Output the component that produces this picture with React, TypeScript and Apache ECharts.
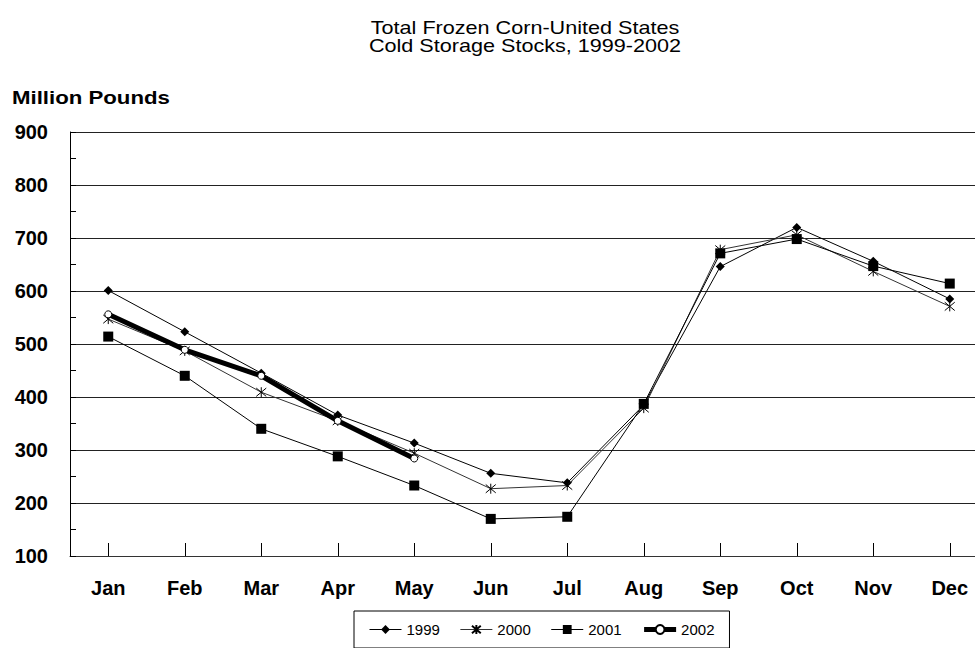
import React, { useEffect, useRef } from "react";
import * as echarts from "echarts";

const months = ["Jan", "Feb", "Mar", "Apr", "May", "Jun", "Jul", "Aug", "Sep", "Oct", "Nov", "Dec"];
const years = ["1999", "2000", "2001", "2002"];
const s1999 = [601, 523, 445, 366, 313, 256, 238, 385, 646, 720, 656, 585];
const s2000 = [547, 487, 409, 355, 294, 227, 233, 379, 678, 706, 637, 571];
const s2001 = [514, 440, 340, 288, 233, 170, 174, 387, 671, 698, 647, 614];
const s2002 = [556, 489, 440, 355, 284];
const titleLines = ["Total Frozen Corn-United States", "Cold Storage Stocks, 1999-2002"];
const yAxisTitle = "Million Pounds";
const yTicks = { min: 100, max: 900, step: 100 };

const FONT = "'Liberation Sans', Arial, Helvetica, sans-serif";
const ASTERISK = "path://M0,0L10,10M10,0L0,10M5,-1L5,11";

export default function App() {
  const ref = useRef<HTMLDivElement>(null);
  useEffect(() => {
    if (!ref.current) return;
    const chart = echarts.init(ref.current, undefined, { renderer: "svg" });
    const labelStyle = { fontSize: 20, fontWeight: "bold" as const, color: "#000", fontFamily: FONT };
    chart.setOption({
      animation: false,
      backgroundColor: "#fff",
      graphic: [
        {
          type: "text", x: 525, y: 28, scaleX: 1.2, silent: true,
          style: { text: titleLines[0], fontSize: 18, fontFamily: FONT, fill: "#000", align: "center", verticalAlign: "middle" },
        },
        {
          type: "text", x: 525, y: 46, scaleX: 1.2, silent: true,
          style: { text: titleLines[1], fontSize: 18, fontFamily: FONT, fill: "#000", align: "center", verticalAlign: "middle" },
        },
        {
          type: "text", x: 12, y: 97, scaleX: 1.17, silent: true,
          style: { text: yAxisTitle, fontSize: 19, fontWeight: "bold", fontFamily: FONT, fill: "#000", align: "left", verticalAlign: "middle" },
        },
      ],
      grid: { left: 70, top: 132, right: 12, bottom: 92, containLabel: false },
      xAxis: {
        type: "category",
        data: months,
        boundaryGap: true,
        axisLine: { show: true, lineStyle: { color: "#333", width: 1 } },
        axisTick: { show: true, alignWithLabel: true, inside: true, length: 13, lineStyle: { color: "#000" } },
        axisLabel: { ...labelStyle, margin: 22, interval: 0 },
        splitLine: { show: false },
      },
      yAxis: {
        type: "value",
        min: yTicks.min,
        max: yTicks.max,
        interval: yTicks.step,
        axisLine: { show: true, lineStyle: { color: "#000", width: 1 } },
        axisTick: { show: true, inside: true, length: 6, lineStyle: { color: "#000" } },
        minorTick: { show: true, splitNumber: 2, length: 6, lineStyle: { color: "#000" } },
        axisLabel: { ...labelStyle, margin: 22 },
        splitLine: { show: true, lineStyle: { color: "#222", width: 1 } },
      },
      legend: {
        data: [
          { name: years[0], lineStyle: { width: 1 } },
          { name: years[1], lineStyle: { width: 1 } },
          { name: years[2], lineStyle: { width: 1 } },
          { name: years[3], lineStyle: { width: 5 } },
        ],
        left: 354,
        top: 611,
        padding: [11, 15, 11, 15],
        borderColor: "#000",
        borderWidth: 1,
        itemWidth: 32,
        itemHeight: 11,
        itemGap: 20,
        textStyle: { fontSize: 15, color: "#000", fontFamily: FONT },
      },
      series: [
        {
          name: years[0], type: "line", data: s1999, symbol: "diamond", symbolSize: 9, showAllSymbol: true,
          lineStyle: { color: "#000", width: 1 }, itemStyle: { color: "#000" }, emphasis: { disabled: true }, z: 2,
        },
        {
          name: years[1], type: "line", data: s2000, symbol: ASTERISK, symbolSize: 10, showAllSymbol: true,
          lineStyle: { color: "#333", width: 1 }, itemStyle: { color: "#000", borderColor: "#000", borderWidth: 1 },
          emphasis: { disabled: true }, z: 3,
        },
        {
          name: years[2], type: "line", data: s2001, symbol: "rect", symbolSize: 10, showAllSymbol: true,
          lineStyle: { color: "#000", width: 1 }, itemStyle: { color: "#000" }, emphasis: { disabled: true }, z: 4,
        },
        {
          name: years[3], type: "line", data: s2002, symbol: "circle", symbolSize: 7, showAllSymbol: true,
          lineStyle: { color: "#000", width: 5 }, itemStyle: { color: "#fff", borderColor: "#000", borderWidth: 1 },
          emphasis: { disabled: true }, z: 5,
        },
      ],
    });
    return () => chart.dispose();
  }, []);
  return (
    <div style={{ position: "fixed", left: 0, top: 0, width: 975, height: 648, overflow: "hidden", background: "#fff" }}>
      <div ref={ref} style={{ position: "absolute", left: 0, top: 0, width: 1000, height: 648 }} />
    </div>
  );
}
